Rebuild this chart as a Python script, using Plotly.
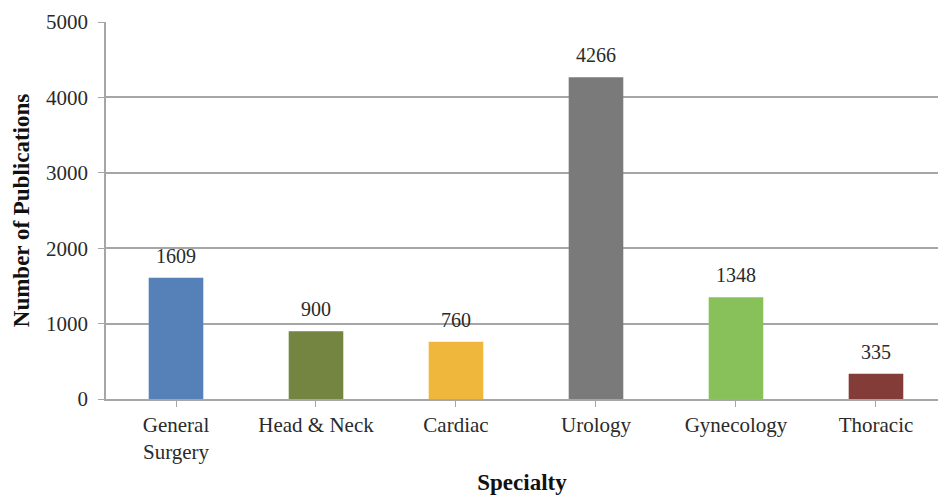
import plotly.graph_objects as go

# Publications per surgical specialty
specialties = ["General<br>Surgery", "Head & Neck", "Cardiac", "Urology", "Gynecology", "Thoracic"]
publications = [1609, 900, 760, 4266, 1348, 335]
bar_colors = ["#5580b8", "#738540", "#efb73c", "#7a7a7a", "#88c05a", "#843c39"]
y_ticks = [0, 1000, 2000, 3000, 4000, 5000]

serif = "Liberation Serif, Times New Roman, serif"
grid_color = "#a6a6a6"

fig = go.Figure(
    go.Bar(
        x=list(range(len(specialties))),
        y=publications,
        marker=dict(color=bar_colors, line=dict(width=0)),
        width=0.39,
        hoverinfo="x+y",
    )
)

# value labels above each bar
for i, v in enumerate(publications):
    fig.add_annotation(
        x=i, y=v, text=str(v), showarrow=False,
        yanchor="bottom", yshift=9,
        font=dict(family=serif, size=20, color="#2a2a2a"),
    )

fig.update_layout(
    width=938, height=495,
    margin=dict(l=106, r=0, t=22, b=96),
    paper_bgcolor="white", plot_bgcolor="white",
    showlegend=False,
    font=dict(family=serif, color="#2a2a2a"),
)

fig.update_xaxes(
    range=[-0.5, 5.443],
    tickmode="array",
    tickvals=list(range(len(specialties))),
    ticktext=specialties,
    tickson="boundaries",
    ticks="outside", ticklen=6, tickcolor=grid_color,
    showline=True, linecolor=grid_color, linewidth=1.5,
    showgrid=False, zeroline=False,
    tickfont=dict(family=serif, size=21, color="#2a2a2a"),
    title=dict(text="<b>Specialty</b>", font=dict(family=serif, size=23, color="#111111"), standoff=14),
)

fig.update_yaxes(
    range=[0, 5000],
    tickmode="array", tickvals=y_ticks,
    ticks="outside", ticklen=6, tickcolor=grid_color,
    ticklabelstandoff=6,
    showline=True, linecolor=grid_color, linewidth=1.5,
    showgrid=True, gridcolor=grid_color, gridwidth=1.5,
    zeroline=False,
    tickfont=dict(family=serif, size=21, color="#2a2a2a"),
    title=dict(text="<b>Number of Publications</b>", font=dict(family=serif, size=23, color="#111111"), standoff=10),
)

fig.write_html("out.html")
